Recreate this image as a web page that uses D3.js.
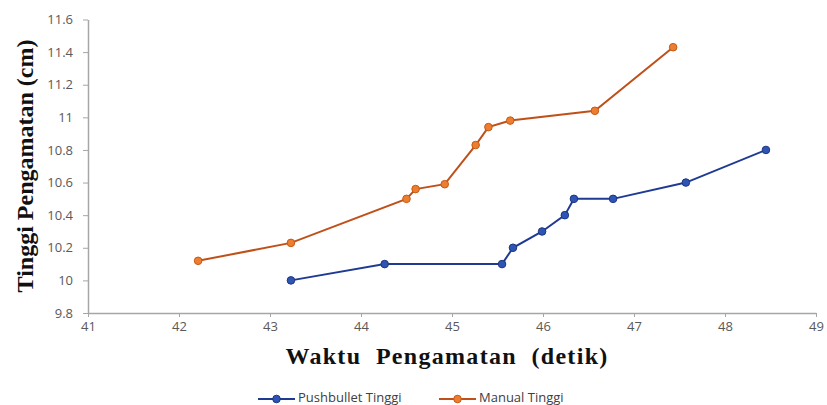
<!DOCTYPE html>
<html>
<head>
<meta charset="utf-8">
<script src="https://cdn.jsdelivr.net/npm/d3@7"></script>
<style>
  body { margin: 0; background: #fff; }
  .tick text { fill: #595959; font-family: "Open Sans", "Noto Sans", sans-serif; font-size: 13px; }
  .axis path, .axis line { stroke: #a6a6a6; }
  .title { font-family: "Liberation Serif", "DejaVu Serif", serif; font-weight: bold; font-size: 24px; fill: #111; }
  .legend text { font-family: "Open Sans", "Noto Sans", sans-serif; font-size: 13px; fill: #404040; }
</style>
</head>
<body>
<div id="chart"></div>
<script>
var width = 827;
var height = 405;

// Pushbullet Tinggi
var pushTime = [43.23, 44.26, 45.55, 45.67, 45.99, 46.24, 46.34, 46.77, 47.57, 48.45];
var pushHeight = [10.0, 10.1, 10.1, 10.2, 10.3, 10.4, 10.5, 10.5, 10.6, 10.8];

// Manual Tinggi
var manualTime = [42.21, 43.23, 44.5, 44.6, 44.92, 45.26, 45.4, 45.64, 46.57, 47.43];
var manualHeight = [10.12, 10.23, 10.5, 10.56, 10.59, 10.83, 10.94, 10.98, 11.04, 11.43];

var xTicks = [41, 42, 43, 44, 45, 46, 47, 48, 49];
var yTicks = [9.8, 10, 10.2, 10.4, 10.6, 10.8, 11, 11.2, 11.4, 11.6];

var series = [
  { name: "Pushbullet Tinggi", xs: pushTime, ys: pushHeight, line: "#1f3a93", fill: "#2f55b4", stroke: "#1c3580" },
  { name: "Manual Tinggi", xs: manualTime, ys: manualHeight, line: "#c0501a", fill: "#ed7d31", stroke: "#c55a11" }
];

var svg = d3.select("#chart").append("svg")
  .attr("width", width)
  .attr("height", height);

var x = d3.scaleLinear().domain([41, 49]).range([88, 816]);
var y = d3.scaleLinear().domain([9.8, 11.6]).range([313, 19.5]);

svg.append("g")
  .attr("class", "axis")
  .attr("transform", "translate(0," + y(9.8) + ")")
  .call(d3.axisBottom(x).tickValues(xTicks).tickSize(4).tickPadding(5).tickSizeOuter(0).tickFormat(d3.format("d")))
  .call(function (g) { g.select(".domain").attr("stroke-width", 1.5) });

svg.append("g")
  .attr("class", "axis")
  .attr("transform", "translate(" + x(41) + ",0)")
  .call(d3.axisLeft(y).tickValues(yTicks).tickSize(5).tickPadding(10).tickSizeOuter(0).tickFormat(function (d) { return +d.toFixed(1) }))
  .call(function (g) { g.select(".domain").attr("stroke-width", 1.5) });

var line = d3.line()
  .x(function (d) { return x(d[0]) })
  .y(function (d) { return y(d[1]) });

series.forEach(function (s) {
  var pts = s.xs.map(function (v, i) { return [v, s.ys[i]] });
  svg.append("path")
    .datum(pts)
    .attr("fill", "none")
    .attr("stroke", s.line)
    .attr("stroke-width", 2)
    .attr("d", line);
  svg.selectAll(null)
    .data(pts)
    .enter()
    .append("circle")
    .attr("cx", function (d) { return x(d[0]) })
    .attr("cy", function (d) { return y(d[1]) })
    .attr("r", 3.8)
    .attr("fill", s.fill)
    .attr("stroke", s.stroke)
    .attr("stroke-width", 1);
});

svg.append("text")
  .attr("class", "title")
  .attr("x", 447)
  .attr("y", 364)
  .attr("text-anchor", "middle")
  .attr("xml:space", "preserve")
  .style("letter-spacing", "1.3px")
  .text("Waktu  Pengamatan  (detik)");

svg.append("text")
  .attr("class", "title")
  .attr("transform", "translate(33,166) rotate(-90)")
  .attr("text-anchor", "middle")
  .text("Tinggi Pengamatan (cm)");

var legend = svg.append("g").attr("class", "legend");
var legendX = [258, 439];
series.forEach(function (s, i) {
  var g = legend.append("g").attr("transform", "translate(" + legendX[i] + ",399)");
  g.append("line").attr("x1", 0).attr("x2", 37).attr("stroke", s.line).attr("stroke-width", 2);
  g.append("circle").attr("cx", 18.5).attr("r", 3.8).attr("fill", s.fill).attr("stroke", s.stroke);
  g.append("text").attr("x", 40).attr("y", 3).text(s.name);
});
</script>
</body>
</html>
